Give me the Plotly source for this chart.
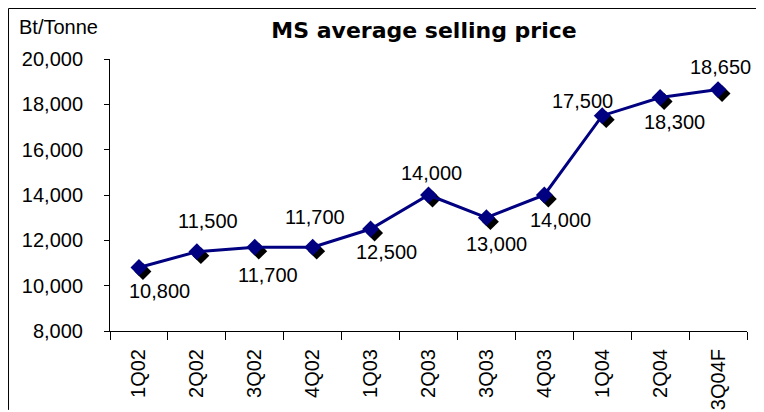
import plotly.graph_objects as go

quarters = ["1Q02", "2Q02", "3Q02", "4Q02", "1Q03", "2Q03", "3Q03", "4Q03", "1Q04", "2Q04", "3Q04F"]
price = [10800, 11500, 11700, 11700, 12500, 14000, 13000, 14000, 17500, 18300, 18650]

# label offsets from each point, in pixels (style only)
label_dx = [21, 11, 13, 2, 16, 3, 10, 16, -20, 14, 2]
label_dy = [-23, 31, -28, 30, -23, 22, -26, -25, 15, -24, 23]

FONT = "Liberation Sans, Arial, sans-serif"
# page has an 8px body margin, figure sits at (8, 8)
W, H = 756, 404
ML, MR, MT, MB = 102, 17, 51, 81
Y_MIN, Y_MAX = 8000, 20000

xs = list(range(len(quarters)))
px_per_cat = (W - ML - MR) / len(quarters)
px_per_unit = (H - MT - MB) / (Y_MAX - Y_MIN)

fig = go.Figure()

# drop shadow under the diamonds, 4px right / 4px down
fig.add_trace(go.Scatter(
    x=[x + 4 / px_per_cat for x in xs], y=[p - 4 / px_per_unit for p in price], mode="markers",
    marker=dict(symbol="diamond", size=13, color="black"),
    hoverinfo="skip", showlegend=False,
))

fig.add_trace(go.Scatter(
    x=xs, y=price, mode="lines+markers",
    line=dict(color="#000080", width=3),
    marker=dict(symbol="diamond", size=13, color="#000080"),
    showlegend=False,
))

annotations = [
    dict(x=x, y=p, text=f"{p:,}", xref="x", yref="y", showarrow=False,
         xanchor="center", yanchor="middle", xshift=dx, yshift=dy,
         font=dict(family=FONT, size=20, color="black"))
    for x, p, dx, dy in zip(xs, price, label_dx, label_dy)
]
annotations.append(dict(text="Bt/Tonne", xref="paper", yref="paper", x=-0.146, y=1.118,
                        xanchor="left", yanchor="middle", showarrow=False,
                        font=dict(family=FONT, size=20, color="black")))

# outer frame: left and top edges of the chart box
bx, by = -0.1593, 1.1857
frame = [
    dict(type="line", xref="paper", yref="paper", x0=bx, x1=bx, y0=-0.29, y1=by,
         line=dict(color="black", width=1)),
    dict(type="line", xref="paper", yref="paper", x0=bx, x1=1.02, y0=by, y1=by,
         line=dict(color="black", width=1)),
]

fig.update_layout(
    width=W, height=H,
    margin=dict(l=ML, r=MR, t=MT, b=MB, autoexpand=False),
    paper_bgcolor="white", plot_bgcolor="white",
    font=dict(family=FONT, color="black"),
    title=dict(text="<b>MS average selling price</b>", x=416 / W, xanchor="center",
               y=1 - 22 / H, yanchor="middle",
               font=dict(size=22, family="DejaVu Sans, sans-serif", color="black")),
    xaxis=dict(
        range=[-0.5, len(quarters) - 0.5], tickvals=xs, ticktext=quarters,
        tickangle=-90, ticks="", ticklabelstandoff=9, tickfont=dict(size=20),
        showgrid=False, zeroline=False, showline=True, linecolor="black", linewidth=1,
        automargin=False,
        minor=dict(tickvals=[i - 0.5 for i in range(len(quarters) + 1)], ticks="outside",
                   ticklen=8, tickcolor="black", showgrid=False),
    ),
    yaxis=dict(
        range=[Y_MIN, Y_MAX], dtick=2000, tickformat=",", ticks="outside", ticklen=5,
        tickcolor="black", ticklabelstandoff=17, tickfont=dict(size=20),
        showgrid=False, zeroline=False, showline=True, linecolor="black", linewidth=1,
        automargin=False,
    ),
    shapes=frame,
    annotations=annotations,
)

fig.write_html("out.html")
